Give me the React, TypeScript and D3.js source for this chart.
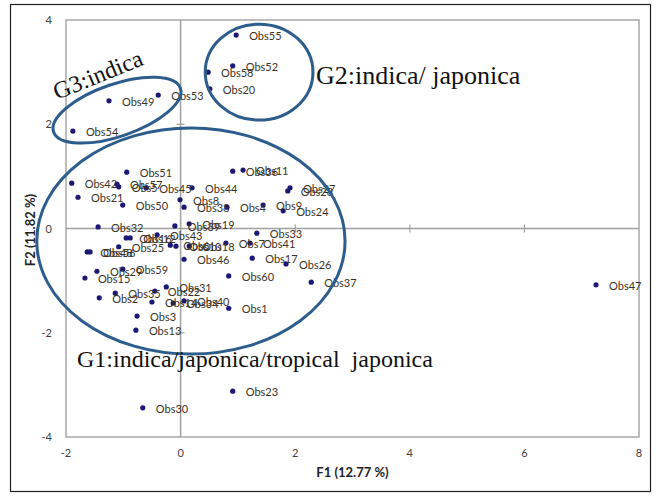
import React, { useEffect, useRef } from 'react';
import * as d3 from 'd3';

// observation scores on the first two factors
const obsNames = [
  'Obs1', 'Obs2', 'Obs3', 'Obs4', 'Obs5', 'Obs6', 'Obs7', 'Obs8', 'Obs9', 'Obs10',
  'Obs11', 'Obs12', 'Obs13', 'Obs14', 'Obs15', 'Obs16', 'Obs17', 'Obs18', 'Obs19', 'Obs20',
  'Obs21', 'Obs22', 'Obs23', 'Obs24', 'Obs25', 'Obs26', 'Obs27', 'Obs28', 'Obs29', 'Obs30',
  'Obs31', 'Obs32', 'Obs33', 'Obs34', 'Obs35', 'Obs36', 'Obs37', 'Obs38', 'Obs39', 'Obs40',
  'Obs41', 'Obs42', 'Obs43', 'Obs44', 'Obs45', 'Obs46', 'Obs47', 'Obs48', 'Obs49', 'Obs50',
  'Obs51', 'Obs52', 'Obs53', 'Obs54', 'Obs55', 'Obs56', 'Obs57', 'Obs58', 'Obs59', 'Obs60'
];
const f1 = [
  0.84, -1.42, -0.76, 0.81, -1.08, -0.18, 0.79, -0.01, 1.44, -0.08,
  1.09, -0.88, -0.78, -0.50, -1.67, -0.95, 1.25, 0.15, 0.15, 0.51,
  -1.79, -0.45, 0.91, 1.79, -1.08, 1.84, 1.91, 1.87, -1.46, -0.66,
  -0.25, -1.44, 1.33, -0.13, -1.14, 0.91, 2.28, 0.06, -0.10, 0.06,
  1.21, -1.90, -0.41, 0.20, -0.60, 0.06, 7.25, -1.63, -1.25, -1.01,
  -0.94, 0.91, -0.39, -1.88, 0.97, -1.58, -1.11, 0.48, -1.01, 0.84
];
const f2 = [
  -1.53, -1.33, -1.68, 0.41, 0.80, -0.32, -0.28, 0.55, 0.45, -0.34,
  1.12, -0.18, -1.95, -1.41, -0.95, -0.18, -0.57, -0.34, 0.09, 2.68,
  0.60, -1.20, -3.12, 0.34, -0.35, -0.68, 0.78, 0.72, -0.82, -3.44,
  -1.12, 0.03, -0.09, -1.43, -1.24, 1.10, -1.03, 0.41, 0.05, -1.39,
  -0.28, 0.87, -0.12, 0.78, 0.78, -0.59, -1.08, -0.45, 2.45, 0.45,
  1.08, 3.12, 2.56, 1.87, 3.71, -0.45, 0.85, 3.00, -0.78, -0.91
];

const xTicks = [-2, 0, 2, 4, 6, 8];
const yTicks = [-4, -2, 0, 2, 4];

// group ellipses (centre and radii in factor units)
const groupNames = ['G1:indica/japonica/tropical  japonica', 'G2:indica/ japonica', 'G3:indica'];
const groupCx = [0.18, 1.37, -1.11];
const groupCy = [-0.24, 3.0, 2.27];
const groupRx = [2.69, 0.94, 1.17];
const groupRy = [2.17, 0.92, 0.5];
const groupAngle = [0, 0, -19];

export default function App() {
  const box = useRef<SVGSVGElement>(null);

  useEffect(() => {
    const svg = d3.select(box.current);
    svg.selectAll('*').remove();

    const x = d3.scaleLinear().domain([-2, 8]).range([66, 639]);
    const y = d3.scaleLinear().domain([-4, 4]).range([437, 20]);
    const lblFont = 'Lato, "Open Sans", sans-serif';

    // outer frame
    svg.append('rect')
      .attr('x', 10.5).attr('y', 4.5)
      .attr('width', 640).attr('height', 487)
      .attr('fill', '#fff')
      .attr('stroke', '#222')
      .attr('stroke-width', 1.2);

    // plot box
    svg.append('rect')
      .attr('x', x(-2)).attr('y', y(4))
      .attr('width', x(8) - x(-2)).attr('height', y(-4) - y(4))
      .attr('fill', 'none')
      .attr('stroke', '#a8a8a8')
      .attr('stroke-width', 1.5);

    // zero lines
    svg.append('line')
      .attr('x1', x(-2)).attr('x2', x(8))
      .attr('y1', y(0)).attr('y2', y(0))
      .attr('stroke', '#a0a0a0').attr('stroke-width', 1.5);
    svg.append('line')
      .attr('x1', x(0)).attr('x2', x(0))
      .attr('y1', y(4)).attr('y2', y(-4))
      .attr('stroke', '#a0a0a0').attr('stroke-width', 1.5);

    // small tick marks on the zero lines
    svg.selectAll('.xt')
      .data(xTicks.filter(t => t !== 0 && t !== -2 && t !== 8))
      .enter()
      .append('line')
      .attr('x1', d => x(d)).attr('x2', d => x(d))
      .attr('y1', y(0) - 4).attr('y2', y(0) + 4)
      .attr('stroke', '#a0a0a0').attr('stroke-width', 1.2);
    svg.selectAll('.yt')
      .data(yTicks.filter(t => t !== 0 && Math.abs(t) !== 4))
      .enter()
      .append('line')
      .attr('x1', x(0) - 4).attr('x2', x(0) + 4)
      .attr('y1', d => y(d)).attr('y2', d => y(d))
      .attr('stroke', '#a0a0a0').attr('stroke-width', 1.2);

    // tick labels
    svg.selectAll('.xl')
      .data(xTicks)
      .enter()
      .append('text')
      .attr('x', d => x(d))
      .attr('y', 457)
      .attr('text-anchor', 'middle')
      .attr('font-family', lblFont)
      .attr('font-size', 11)
      .attr('fill', '#404040')
      .text(d => String(d));
    svg.selectAll('.yl')
      .data(yTicks)
      .enter()
      .append('text')
      .attr('x', 52)
      .attr('y', d => y(d) + 4)
      .attr('text-anchor', 'end')
      .attr('font-family', lblFont)
      .attr('font-size', 11)
      .attr('fill', '#404040')
      .text(d => String(d));

    // axis titles
    svg.append('text')
      .attr('x', (x(-2) + x(8)) / 2)
      .attr('y', 477)
      .attr('text-anchor', 'middle')
      .attr('font-family', lblFont)
      .attr('font-size', 13)
      .attr('font-weight', 700)
      .attr('fill', '#222')
      .text('F1 (12.77 %)');
    svg.append('text')
      .attr('transform', 'translate(35,230) rotate(-90)')
      .attr('text-anchor', 'middle')
      .attr('font-family', lblFont)
      .attr('font-size', 13)
      .attr('font-weight', 700)
      .attr('fill', '#222')
      .text('F2 (11.82 %)');

    // points + labels
    const pts = obsNames.map((n, i) => ({ n, a: f1[i], b: f2[i] }));
    svg.selectAll('.pt')
      .data(pts)
      .enter()
      .append('circle')
      .attr('cx', d => x(d.a))
      .attr('cy', d => y(d.b))
      .attr('r', 2.6)
      .attr('fill', '#1c1874');
    svg.selectAll('.pl')
      .data(pts)
      .enter()
      .append('text')
      .attr('x', d => x(d.a) + 13)
      .attr('y', d => y(d.b) + 5)
      .attr('font-family', lblFont)
      .attr('font-size', 11)
      .attr('fill', '#3a3226')
      .text(d => d.n);

    // group ellipses
    groupNames.forEach((g, i) => {
      svg.append('ellipse')
        .attr('transform', `translate(${x(groupCx[i])},${y(groupCy[i])}) rotate(${groupAngle[i]})`)
        .attr('rx', x(groupRx[i]) - x(0))
        .attr('ry', y(0) - y(groupRy[i]))
        .attr('fill', 'none')
        .attr('stroke', '#2c5d8c')
        .attr('stroke-width', 3);
    });

    // group titles
    const serif = '"Liberation Serif", "Times New Roman", serif';
    const titlePos = [
      'translate(77,367)',
      'translate(316,84)',
      'translate(57,100) rotate(-22)'
    ];
    const titleSize = [24, 26, 24];
    groupNames.forEach((g, i) => {
      svg.append('text')
        .attr('transform', titlePos[i])
        .attr('font-family', serif)
        .attr('font-size', titleSize[i])
        .attr('fill', '#111')
        .style('white-space', 'pre')
        .text(g);
    });
  }, []);

  return (
    <svg
      ref={box}
      width={659}
      height={498}
      style={{ position: 'absolute', left: 0, top: 0, background: '#fff' }}
    />
  );
}
